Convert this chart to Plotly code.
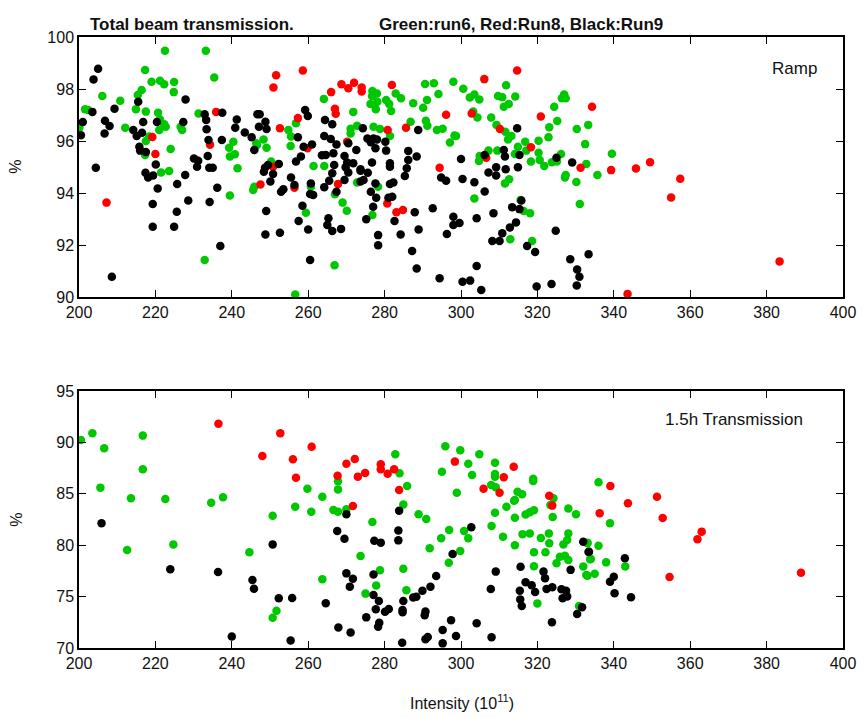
import plotly.graph_objects as go

# ---------------- data (Intensity, %) ----------------
ramp_run6 = [(222.5,99.47),(233.2,99.47),(235.4,98.44),(217.3,98.73),(219.0,98.28),(221.2,98.32),(222.3,98.18),(224.9,98.27),(224.8,97.88),(216.4,97.96),(215.4,97.77),(206.1,97.73),(210.8,97.55),(201.6,97.22),(202.4,97.19),(214.9,97.22),(217.5,97.13),(220.7,97.09),(221.2,96.83),(222.3,96.64),(222.7,96.55),(221.0,96.42),(218.4,96.17),(217.5,96.00),(212.1,96.51),(200.1,96.51),(226.6,96.55),(227.0,96.42),(231.3,97.06),(224.0,95.69),(240.4,95.97),(239.3,95.74),(240.8,95.49),(239.5,95.40),(246.4,95.91),(241.5,94.95),(217.3,95.46),(221.5,94.79),(223.6,94.85),(239.5,93.90),(245.9,94.24),(245.6,94.12),(232.9,91.42),(264.1,97.62),(271.8,97.12),(276.8,97.92),(278.0,97.83),(276.7,97.73),(276.3,97.42),(277.7,97.22),(278.1,97.51),(280.4,97.58),(281.2,97.42),(281.7,97.15),(282.9,97.83),(284.3,97.64),(287.5,97.45),(290.1,97.28),(291.1,97.58),(290.6,98.19),(292.9,98.22),(294.1,97.81),(298.0,98.28),(286.8,96.74),(290.8,96.78),(291.2,96.59),(293.7,96.42),(295.2,96.47),(297.1,95.94),(298.3,96.21),(277.1,96.55),(278.8,96.46),(281.4,96.19),(272.8,96.59),(271.1,96.47),(271.1,96.29),(254.8,96.42),(255.5,96.17),(256.8,96.68),(255.4,95.81),(248.3,96.06),(249.1,95.74),(246.6,95.85),(250.3,95.21),(261.4,95.04),(264.2,95.04),(260.7,94.24),(267.0,93.95),(269.0,93.63),(270.1,93.32),(259.4,93.24),(266.9,91.22),(256.6,90.10),(272.8,94.40),(278.3,94.24),(276.8,93.15),(300.6,98.01),(302.3,97.67),(303.5,97.79),(304.8,97.60),(303.2,97.13),(304.3,96.90),(307.9,96.90),(311.8,98.14),(309.7,97.73),(310.8,97.68),(314.2,97.71),(312.5,97.42),(311.2,97.32),(309.3,96.62),(311.6,96.36),(312.3,96.06),(313.2,96.19),(309.5,95.63),(314.1,95.50),(314.9,95.78),(316.8,95.97),(317.1,95.63),(320.3,96.01),(322.9,96.14),(323.1,96.53),(325.2,96.77),(324.4,97.32),(327.0,97.79),(327.4,97.64),(326.4,97.64),(330.3,96.46),(333.3,96.62),(332.5,95.88),(332.8,95.12),(339.5,95.51),(335.7,94.69),(330.2,94.42),(331.1,93.58),(327.2,94.60),(327.4,94.69),(326.2,95.50),(325.1,95.21),(323.8,95.18),(321.8,95.04),(320.3,95.55),(320.6,95.27),(318.3,95.21),(307.2,95.63),(304.9,95.42),(304.7,95.23),(298.7,96.19),(303.5,93.79),(311.5,94.37),(312.6,94.53),(315.6,93.73),(316.4,93.31),(318.1,93.22),(312.9,92.22),(318.6,92.15)]

ramp_run8 = [(235.9,97.12),(219.2,96.15),(220.0,95.50),(234.3,95.86),(207.2,93.63),(251.6,98.53),(250.9,98.06),(258.6,98.71),(268.7,98.18),(270.5,98.03),(272.0,98.24),(274.0,98.06),(274.0,97.90),(266.0,97.88),(281.9,98.15),(267.0,97.24),(267.2,97.05),(257.3,96.88),(252.6,96.49),(280.8,96.42),(285.6,96.51),(296.1,97.01),(294.4,94.97),(270.2,95.97),(259.8,95.72),(250.8,95.01),(247.5,94.33),(256.4,94.20),(267.8,94.35),(280.7,93.60),(283.1,93.26),(284.8,93.35),(314.7,98.71),(306.1,98.38),(302.8,97.06),(310.2,96.46),(320.9,96.94),(334.3,97.32),(318.3,95.76),(306.6,95.36),(331.3,94.97),(339.3,94.88),(345.8,94.94),(349.5,95.18),(357.4,94.55),(355.0,93.83),(383.4,91.37),(343.6,90.12)]

ramp_run9 = [(205.0,98.78),(203.8,98.37),(215.5,97.51),(203.5,97.12),(209.3,97.24),(201.0,96.73),(200.5,96.22),(206.8,96.78),(208.0,96.58),(206.7,96.29),(214.2,96.42),(215.1,96.19),(216.8,96.73),(220.4,96.73),(216.5,96.32),(215.8,95.78),(216.0,95.63),(217.5,95.58),(220.1,95.10),(204.4,94.97),(227.9,97.60),(227.3,96.73),(232.9,97.03),(233.3,96.81),(237.5,97.09),(233.4,96.45),(233.9,96.04),(237.4,96.04),(241.3,96.83),(240.9,96.51),(243.4,96.33),(245.2,96.14),(245.9,95.65),(246.7,97.03),(233.7,95.42),(230.1,95.33),(231.2,95.24),(230.9,95.01),(235.0,94.97),(234.1,94.97),
(217.4,94.78),(218.1,94.60),(219.4,94.67),(220.6,94.17),(225.7,94.35),(227.8,94.69),(228.6,93.71),(225.6,93.28),(219.3,93.58),(219.3,92.70),(224.9,92.70),(234.2,93.65),(236.2,94.20),(237.0,91.96),(208.6,90.78),
(247.3,97.03),(248.8,96.74),(247.1,96.55),(249.1,96.46),(259.2,97.19),(259.9,96.96),(264.4,96.81),(266.3,96.64),(257.3,96.14),(258.8,95.78),(261.0,95.87),(264.2,96.19),(265.9,96.08),(267.4,95.87),(270.5,95.91),(272.6,95.65),(274.3,96.49),(275.5,96.10),(277.1,96.10),(278.0,96.06),(276.4,95.95),(277.6,95.72),(280.2,95.97),(280.4,95.63),(288.8,96.42),(286.2,95.62),(286.2,95.27),(288.4,95.40),(281.4,95.14),(281.4,95.01),(276.7,95.17),(273.7,94.91),(269.5,95.42),(270.2,95.17),(271.8,95.14),(266.8,95.08),(263.6,95.45),(264.6,95.46),(266.6,95.53),(258.1,95.40),(256.8,95.21),(252.3,95.12),(249.5,95.08),(248.7,94.97),(285.8,94.95),
(248.4,94.82),(250.8,94.73),(250.1,94.44),(252.9,94.05),(253.5,94.14),(255.5,94.60),(256.4,94.31),(260.7,94.37),(260.5,93.96),(261.3,93.92),(264.2,94.22),(265.5,94.47),(266.3,94.76),(267.4,94.05),(269.5,94.50),(270.5,94.79),(269.8,94.99),(273.7,94.86),(275.6,94.78),(274.5,94.50),(273.7,94.44),(277.6,94.37),(276.4,94.05),(277.8,93.82),(277.0,93.47),(275.2,92.99),(281.4,94.35),(282.3,94.40),(281.0,93.82),(282.0,93.86),(285.3,94.65),(282.6,92.92),(287.9,93.26),(288.9,92.60),(284.2,92.40),(278.3,92.38),(278.3,91.99),(287.2,91.77),(288.4,91.10),(294.4,90.72),(292.6,93.41),(294.8,94.60),(296.1,94.47),(298.0,93.09),(296.3,92.42),(298.0,92.77),(249.0,93.31),(248.8,92.40),(252.6,92.47),(258.5,93.51),(257.5,92.92),(260.0,92.60),(260.5,91.42),(265.3,93.03),(265.0,92.77),(266.3,92.54),(268.6,92.62),
(314.7,96.49),(306.2,95.46),(300.0,95.31),(311.2,95.65),(311.5,95.40),(311.7,94.91),(309.2,94.99),(309.2,94.67),(307.2,94.79),(315.3,95.46),(314.9,94.99),(325.0,95.36),(329.1,95.17),(300.4,94.54),(303.5,94.41),(306.2,94.06),(299.6,92.85),(304.1,93.03),(308.5,93.22),(313.4,93.45),(315.3,93.38),(315.8,93.71),(314.4,92.87),(312.8,92.67),(310.8,92.45),(308.2,92.15),(310.1,92.15),(324.8,92.55),(317.3,91.96),(319.4,91.73),(304.1,91.19),(300.4,90.59),(302.4,90.63),(305.3,90.27),(319.8,90.40),(323.7,90.50),(330.3,90.44),(328.6,91.45),(330.4,91.06),(331.0,90.78),(333.4,91.64)]

trans_run6 = [(200.5,90.23),(203.5,90.88),(206.6,89.42),(216.7,90.66),(216.7,87.38),(205.6,85.60),(213.6,84.56),(222.6,84.49),(234.6,84.14),(237.7,84.66),(259.8,85.50),(263.7,84.72),(212.6,79.53),(224.7,80.08),(244.6,79.31),(250.7,82.87),(256.6,83.75),(260.8,83.26),(250.7,72.95),(251.7,73.63),(263.7,76.68),(267.8,86.21),(267.8,85.43),(282.8,88.84),(283.9,86.99),(285.9,85.76),(295.9,89.62),(299.8,89.23),(304.8,88.84),(308.9,88.03),(301.9,87.93),(302.9,86.83),(295.0,87.15),(308.9,86.93),(308.9,86.67),(307.9,85.86),(309.1,85.63),(318.9,86.47),(318.9,86.25),(298.9,85.11),(314.8,85.21),(316.0,84.95),(314.1,84.40),(324.2,84.56),(266.6,83.42),(267.8,83.26),(270.0,83.49),(276.8,82.26),(284.9,83.97),(288.9,83.00),(290.9,82.55),(294.8,80.67),(296.9,81.48),(300.8,81.38),(301.9,80.67),(299.8,79.44),(296.8,78.30),(291.8,79.70),(273.7,78.96),(278.8,77.57),(284.9,77.70),(277.8,76.07),(275.0,75.29),(285.7,75.61),(308.9,83.16),(311.9,83.75),(313.9,84.33),(314.1,82.68),(308.0,81.87),(311.0,80.83),(314.1,79.99),(316.9,82.98),(318.0,83.20),(319.1,83.40),(316.1,81.06),(318.0,81.15),(320.9,80.70),(323.0,81.15),(323.1,80.18),(322.1,79.31),(319.1,79.31),(319.1,77.95),(324.0,82.74),(323.4,83.91),(328.1,83.58),(330.1,83.00),(328.1,81.15),(327.8,80.50),(326.8,80.08),(325.9,78.88),(327.2,78.98),(328.1,78.56),(325.0,78.24),(332.0,77.92),(333.1,80.18),(333.8,78.63),(332.8,77.10),(320.0,74.34),(330.9,74.08),(336.0,86.12),(339.0,82.13),(336.0,79.95),(338.0,78.33),(343.0,77.94),(335.0,77.23),(333.1,77.04),(334.0,78.66),(333.1,80.25)]

trans_run8 = [(236.5,91.82),(248.0,88.68),(252.7,90.88),(256.0,88.35),(256.8,86.57),(260.9,89.58),(270.0,87.93),(272.2,88.39),(267.7,86.76),(273.0,86.67),(274.9,87.02),(279.0,87.87),(279.0,87.38),(280.8,86.96),(282.5,87.38),(283.8,85.37),(298.4,88.13),(313.8,87.64),(311.2,86.60),(305.9,85.50),(310.1,85.11),(323.1,84.82),(271.7,83.81),(323.9,83.85),(339.1,85.76),(343.7,84.07),(351.3,84.72),(352.8,82.65),(336.3,83.10),(363.0,81.32),(361.9,80.57),(354.6,76.91),(389.0,77.33)]

trans_run9 = [(205.9,82.13),(223.9,77.66),(236.4,77.40),(250.7,80.08),(245.4,76.62),(245.8,75.77),(252.3,74.83),(255.8,74.86),(240.0,71.11),(255.4,70.72),(264.6,74.35),(270.0,83.00),(267.6,81.38),(269.5,80.63),(277.3,80.44),(279.0,80.25),(283.8,83.36),(283.6,81.42),(283.6,80.47),(302.7,81.74),(297.8,79.15),(270.0,77.26),(271.7,76.74),(270.9,75.97),(277.1,77.16),(277.1,75.15),(278.5,74.57),(277.7,73.76),(275.2,72.98),(280.1,73.53),(281.1,73.79),(278.6,72.46),(278.3,72.07),(284.9,74.57),(284.7,73.69),(284.7,73.47),(287.5,74.92),(288.3,74.99),(289.9,75.57),(292.0,75.96),(293.5,77.00),(290.7,73.56),(290.5,73.18),(297.4,72.69),(291.3,71.07),(295.2,71.75),(290.7,70.84),(295.2,70.45),(298.7,71.16),(284.6,70.52),(304.1,72.40),(308.0,71.04),(267.9,72.00),(271.1,71.50),(309.1,77.43),(307.8,75.74),(315.6,77.90),(315.4,75.57),(315.5,74.73),(315.9,74.08),(316.9,76.40),(318.5,76.10),(319.4,75.45),(321.6,77.43),(322.0,76.78),(322.4,75.74),(323.9,75.90),(323.8,72.50),(328.7,77.60),(326.3,75.71),(327.5,75.58),(326.6,74.83),(327.8,75.00),(331.7,73.96),(330.4,73.31),(332.0,80.34),(333.5,79.37),(342.9,78.72),(340.0,76.94),(339.0,76.45),(340.2,75.32),(344.5,74.93),(333.4,79.34)]

x_ticks = [200, 220, 240, 260, 280, 300, 320, 340, 360, 380, 400]
ramp_y_ticks = [90, 92, 94, 96, 98, 100]
trans_y_ticks = [70, 75, 80, 85, 90, 95]

GREEN, RED, BLACK = "#00c800", "#ff0000", "#000000"
FONT = "Liberation Sans, Arial, Helvetica, sans-serif"

fig = go.Figure()

def add(series, color, xa, ya):
    fig.add_trace(go.Scatter(
        x=[p[0] for p in series], y=[p[1] for p in series],
        mode="markers", xaxis=xa, yaxis=ya,
        marker=dict(size=8.5, color=color, line=dict(width=0)),
        showlegend=False, hoverinfo="x+y"))

add(ramp_run6, GREEN, "x", "y")
add(ramp_run8, RED, "x", "y")
add(ramp_run9, BLACK, "x", "y")
add(trans_run6, GREEN, "x2", "y2")
add(trans_run8, RED, "x2", "y2")
add(trans_run9, BLACK, "x2", "y2")

axis_common = dict(showline=True, linecolor="black", linewidth=1.5, mirror="ticks",
                   ticks="inside", ticklen=7, tickwidth=1, tickcolor="black",
                   showgrid=False, zeroline=False,
                   tickfont=dict(family=FONT, size=16, color="#111"))

# pixel layout: plot area x 79..851, y 37..648 (611 px)
top_lo = (648 - 297) / 611
bot_hi = (648 - 391) / 611

fig.update_layout(
    width=868, height=718,
    margin=dict(l=79, r=17, t=37, b=70),
    paper_bgcolor="white", plot_bgcolor="white",
    font=dict(family=FONT, size=16, color="#111"),
    xaxis=dict(range=[200, 400], tickvals=x_ticks, anchor="y", **axis_common),
    yaxis=dict(range=[90, 100], tickvals=ramp_y_ticks, domain=[top_lo, 1], anchor="x", **axis_common),
    xaxis2=dict(range=[200, 400], tickvals=x_ticks, anchor="y2", **axis_common),
    yaxis2=dict(range=[70, 95], tickvals=trans_y_ticks, domain=[0, bot_hi], anchor="x2", **axis_common),
)

def px_x(px):
    return (px - 79) / 772

def px_y(py):
    return (648 - py) / 611

ann = [
    dict(text="<b>Total beam transmission.</b>", x=px_x(88), y=px_y(25), xanchor="left", yanchor="middle", font=dict(size=17)),
    dict(text="<b>Green:run6, Red:Run8, Black:Run9</b>", x=px_x(380), y=px_y(25), xanchor="left", yanchor="middle", font=dict(size=17)),
    dict(text="Ramp", x=px_x(802), y=px_y(69), xanchor="center", yanchor="middle", font=dict(size=17)),
    dict(text="1.5h Transmission", x=px_x(741), y=px_y(420), xanchor="center", yanchor="middle", font=dict(size=17)),
    dict(text="Intensity (10<sup>11</sup>)", x=px_x(466), y=px_y(702), xanchor="center", yanchor="middle", font=dict(size=16)),
    dict(text="%", x=px_x(15), y=px_y(167), xanchor="center", yanchor="middle", textangle=-90, font=dict(size=16)),
    dict(text="%", x=px_x(15), y=px_y(520), xanchor="center", yanchor="middle", textangle=-90, font=dict(size=16)),
]
for a in ann:
    a.update(xref="paper", yref="paper", showarrow=False)
    a["font"] = dict(family=FONT, color="#111", **a["font"])
fig.update_layout(annotations=ann)

fig.write_html("out.html")
